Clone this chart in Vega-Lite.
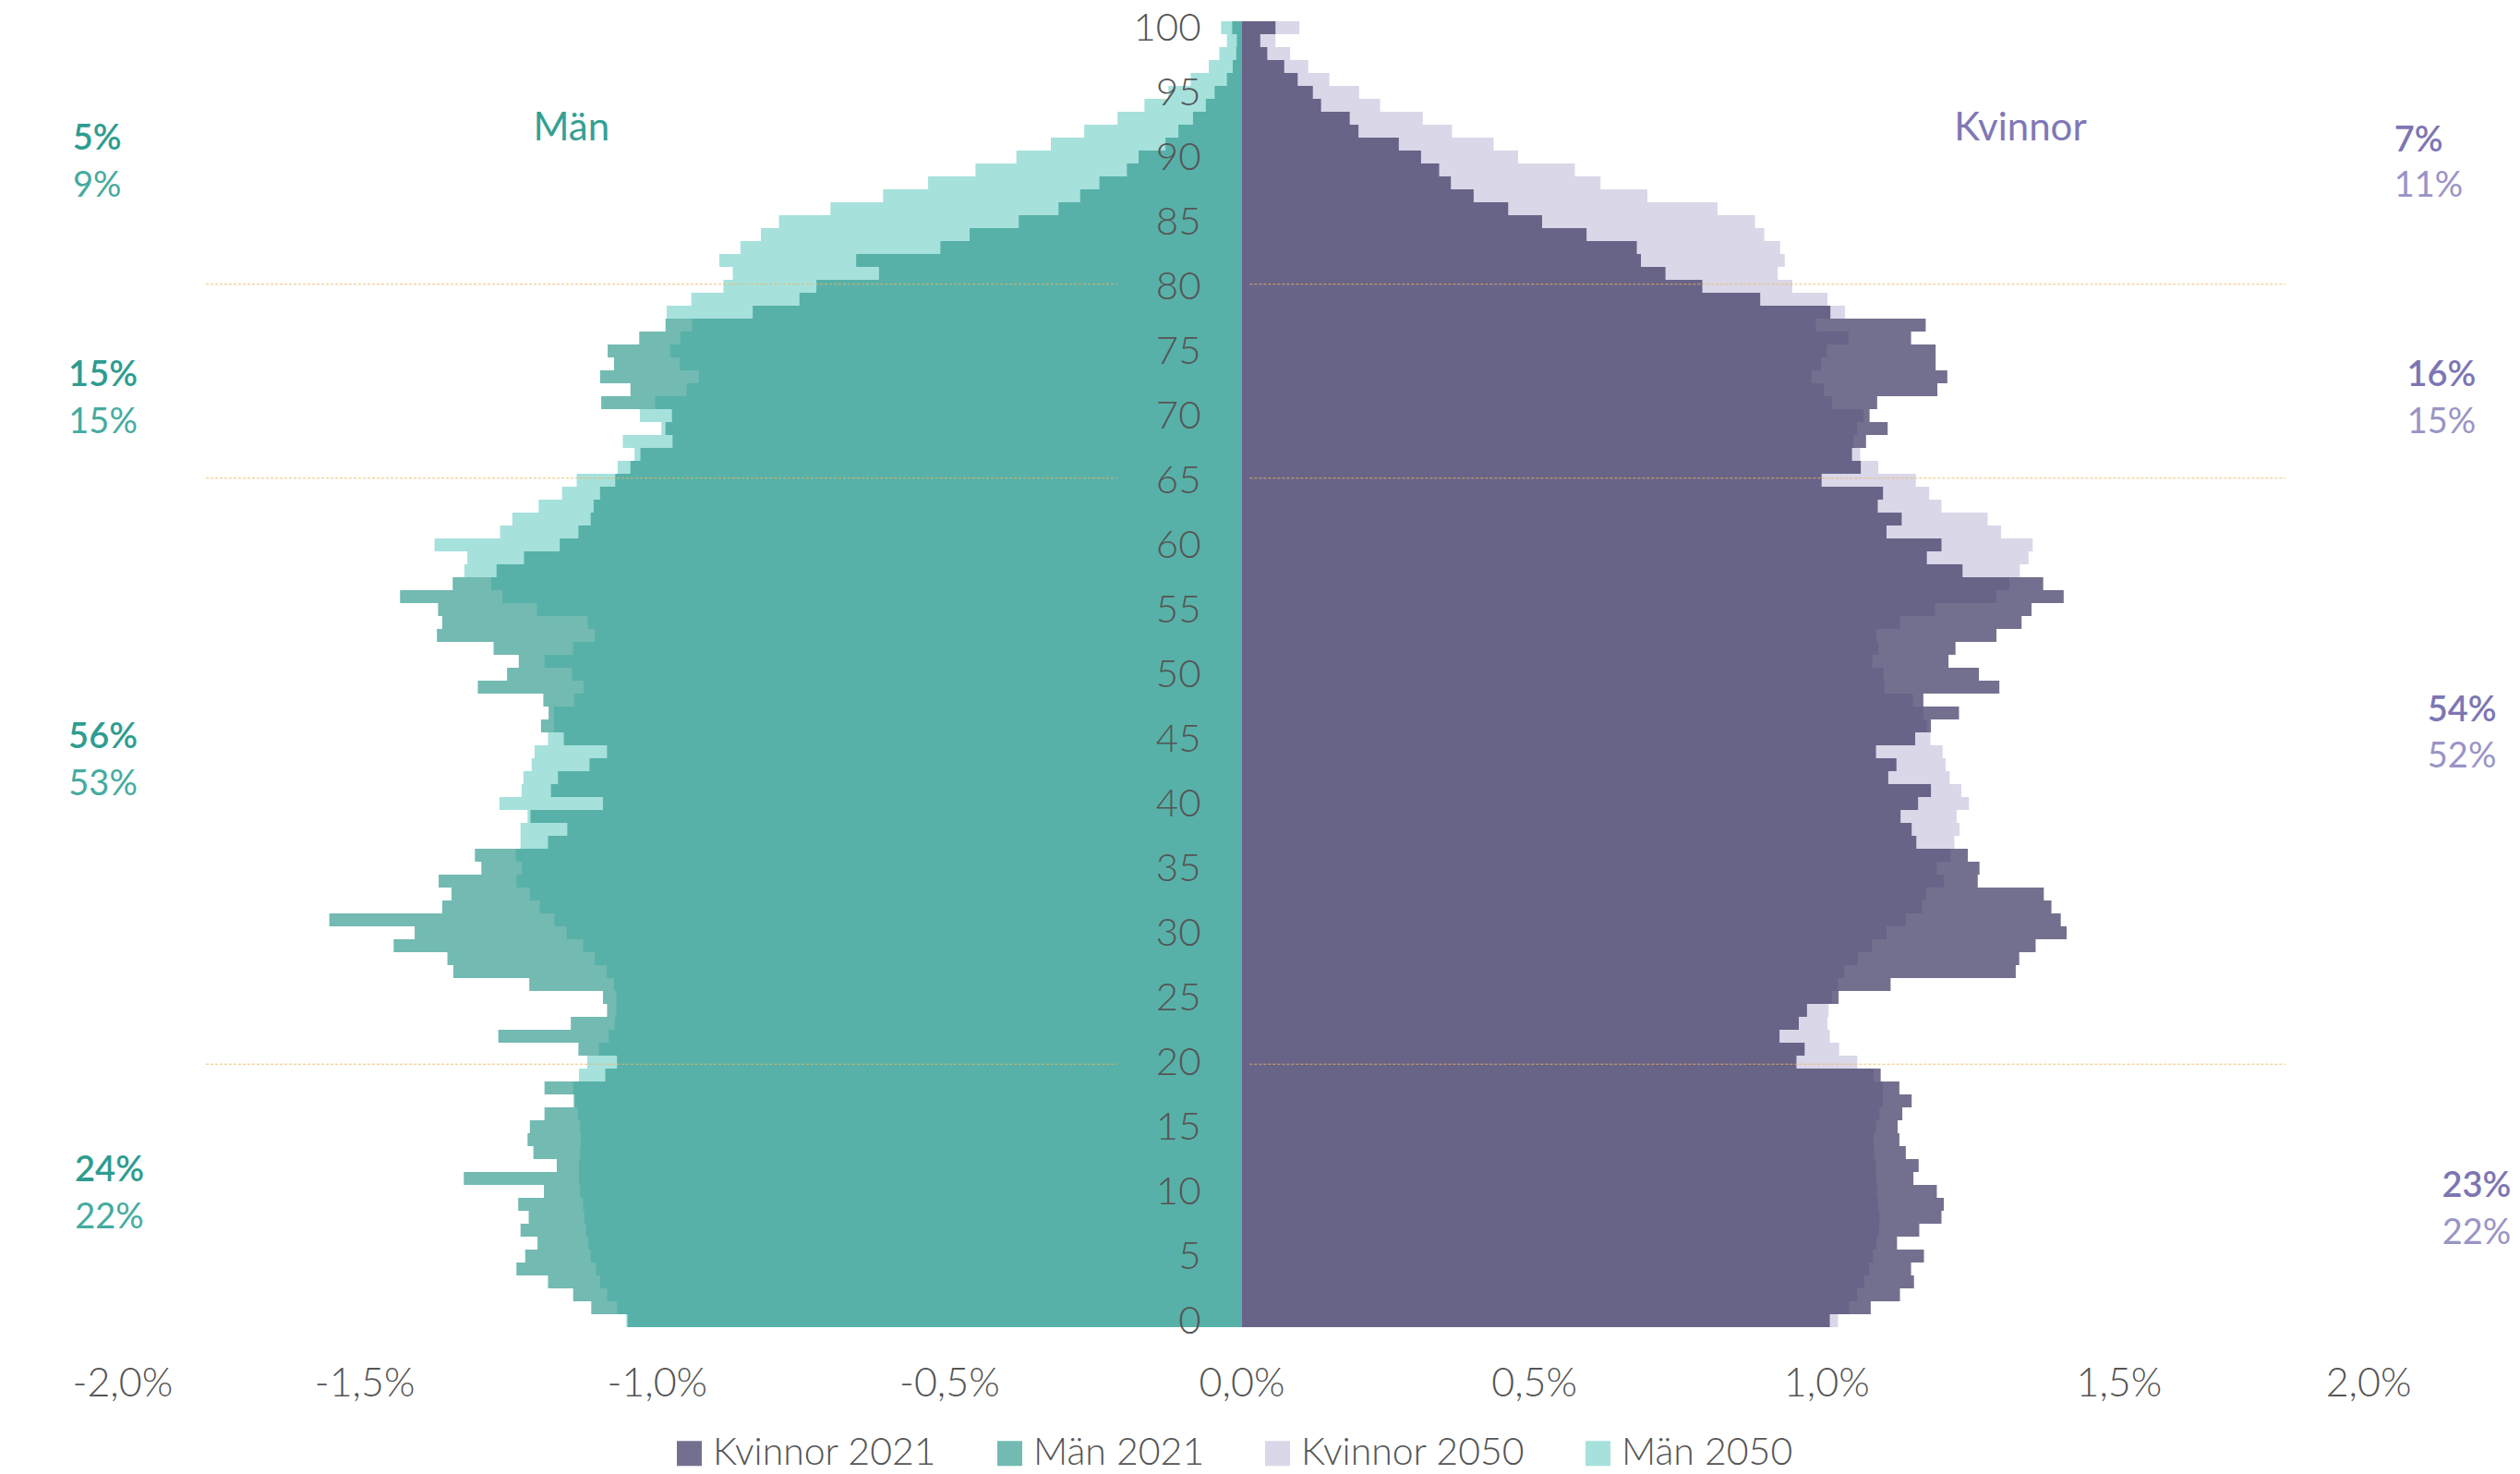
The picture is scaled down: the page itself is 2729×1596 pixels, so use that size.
{
  "$schema": "https://vega.github.io/schema/vega-lite/v6.json",
  "autosize": {"type": "none"},
  "padding": {"left": 78, "top": 23, "right": 118, "bottom": 159},
  "width": 2533,
  "height": 1414,
  "background": "white",
  "config": {"view": {"stroke": null}, "font": "Lato"},
  "datasets": {
    "pop": [
      {"age":100,"Kvinnor 2021":0.058,"Män 2021":-0.016,"Kvinnor 2050":0.099,"Män 2050":-0.035},
      {"age":99,"Kvinnor 2021":0.032,"Män 2021":-0.008,"Kvinnor 2050":0.058,"Män 2050":-0.025},
      {"age":98,"Kvinnor 2021":0.044,"Män 2021":-0.009,"Kvinnor 2050":0.083,"Män 2050":-0.038},
      {"age":97,"Kvinnor 2021":0.073,"Män 2021":-0.015,"Kvinnor 2050":0.114,"Män 2050":-0.056},
      {"age":96,"Kvinnor 2021":0.096,"Män 2021":-0.025,"Kvinnor 2050":0.150,"Män 2050":-0.087},
      {"age":95,"Kvinnor 2021":0.122,"Män 2021":-0.046,"Kvinnor 2050":0.201,"Män 2050":-0.125},
      {"age":94,"Kvinnor 2021":0.136,"Män 2021":-0.061,"Kvinnor 2050":0.237,"Män 2050":-0.166},
      {"age":93,"Kvinnor 2021":0.185,"Män 2021":-0.083,"Kvinnor 2050":0.310,"Män 2050":-0.212},
      {"age":92,"Kvinnor 2021":0.200,"Män 2021":-0.108,"Kvinnor 2050":0.360,"Män 2050":-0.269},
      {"age":91,"Kvinnor 2021":0.269,"Män 2021":-0.130,"Kvinnor 2050":0.431,"Män 2050":-0.326},
      {"age":90,"Kvinnor 2021":0.307,"Män 2021":-0.176,"Kvinnor 2050":0.473,"Män 2050":-0.385},
      {"age":89,"Kvinnor 2021":0.338,"Män 2021":-0.196,"Kvinnor 2050":0.570,"Män 2050":-0.455},
      {"age":88,"Kvinnor 2021":0.358,"Män 2021":-0.243,"Kvinnor 2050":0.614,"Män 2050":-0.536},
      {"age":87,"Kvinnor 2021":0.397,"Män 2021":-0.276,"Kvinnor 2050":0.694,"Män 2050":-0.613},
      {"age":86,"Kvinnor 2021":0.456,"Män 2021":-0.313,"Kvinnor 2050":0.814,"Män 2050":-0.703},
      {"age":85,"Kvinnor 2021":0.514,"Män 2021":-0.381,"Kvinnor 2050":0.878,"Män 2050":-0.791},
      {"age":84,"Kvinnor 2021":0.590,"Män 2021":-0.465,"Kvinnor 2050":0.894,"Män 2050":-0.822},
      {"age":83,"Kvinnor 2021":0.676,"Män 2021":-0.515,"Kvinnor 2050":0.921,"Män 2050":-0.857},
      {"age":82,"Kvinnor 2021":0.683,"Män 2021":-0.659,"Kvinnor 2050":0.929,"Män 2050":-0.893},
      {"age":81,"Kvinnor 2021":0.725,"Män 2021":-0.620,"Kvinnor 2050":0.917,"Män 2050":-0.870},
      {"age":80,"Kvinnor 2021":0.788,"Män 2021":-0.727,"Kvinnor 2050":0.942,"Män 2050":-0.886},
      {"age":79,"Kvinnor 2021":0.887,"Män 2021":-0.756,"Kvinnor 2050":1.002,"Män 2050":-0.941},
      {"age":78,"Kvinnor 2021":1.007,"Män 2021":-0.836,"Kvinnor 2050":1.032,"Män 2050":-0.983},
      {"age":77,"Kvinnor 2021":1.170,"Män 2021":-0.985,"Kvinnor 2050":0.982,"Män 2050":-0.940},
      {"age":76,"Kvinnor 2021":1.145,"Män 2021":-1.030,"Kvinnor 2050":1.038,"Män 2050":-0.960},
      {"age":75,"Kvinnor 2021":1.187,"Män 2021":-1.084,"Kvinnor 2050":1.001,"Män 2050":-0.977},
      {"age":74,"Kvinnor 2021":1.187,"Män 2021":-1.073,"Kvinnor 2050":0.991,"Män 2050":-0.961},
      {"age":73,"Kvinnor 2021":1.207,"Män 2021":-1.097,"Kvinnor 2050":0.975,"Män 2050":-0.928},
      {"age":72,"Kvinnor 2021":1.190,"Män 2021":-1.045,"Kvinnor 2050":0.996,"Män 2050":-0.949},
      {"age":71,"Kvinnor 2021":1.087,"Män 2021":-1.095,"Kvinnor 2050":1.010,"Män 2050":-1.003},
      {"age":70,"Kvinnor 2021":1.074,"Män 2021":-0.974,"Kvinnor 2050":1.064,"Män 2050":-1.029},
      {"age":69,"Kvinnor 2021":1.105,"Män 2021":-0.985,"Kvinnor 2050":1.053,"Män 2050":-0.992},
      {"age":68,"Kvinnor 2021":1.068,"Män 2021":-0.973,"Kvinnor 2050":1.047,"Män 2050":-1.058},
      {"age":67,"Kvinnor 2021":1.044,"Män 2021":-1.028,"Kvinnor 2050":1.058,"Män 2050":-1.038},
      {"age":66,"Kvinnor 2021":1.059,"Män 2021":-1.045,"Kvinnor 2050":1.089,"Män 2050":-1.067},
      {"age":65,"Kvinnor 2021":0.992,"Män 2021":-1.071,"Kvinnor 2050":1.153,"Män 2050":-1.137},
      {"age":64,"Kvinnor 2021":1.097,"Män 2021":-1.097,"Kvinnor 2050":1.176,"Män 2050":-1.162},
      {"age":63,"Kvinnor 2021":1.088,"Män 2021":-1.108,"Kvinnor 2050":1.197,"Män 2050":-1.202},
      {"age":62,"Kvinnor 2021":1.129,"Män 2021":-1.113,"Kvinnor 2050":1.276,"Män 2050":-1.247},
      {"age":61,"Kvinnor 2021":1.103,"Män 2021":-1.134,"Kvinnor 2050":1.299,"Män 2050":-1.268},
      {"age":60,"Kvinnor 2021":1.197,"Män 2021":-1.166,"Kvinnor 2050":1.353,"Män 2050":-1.380},
      {"age":59,"Kvinnor 2021":1.172,"Män 2021":-1.227,"Kvinnor 2050":1.346,"Män 2050":-1.324},
      {"age":58,"Kvinnor 2021":1.233,"Män 2021":-1.274,"Kvinnor 2050":1.331,"Män 2050":-1.329},
      {"age":57,"Kvinnor 2021":1.371,"Män 2021":-1.349,"Kvinnor 2050":1.313,"Män 2050":-1.283},
      {"age":56,"Kvinnor 2021":1.406,"Män 2021":-1.439,"Kvinnor 2050":1.291,"Män 2050":-1.264},
      {"age":55,"Kvinnor 2021":1.351,"Män 2021":-1.374,"Kvinnor 2050":1.186,"Män 2050":-1.205},
      {"age":54,"Kvinnor 2021":1.334,"Män 2021":-1.367,"Kvinnor 2050":1.126,"Män 2050":-1.118},
      {"age":53,"Kvinnor 2021":1.291,"Män 2021":-1.376,"Kvinnor 2050":1.086,"Män 2050":-1.106},
      {"age":52,"Kvinnor 2021":1.221,"Män 2021":-1.279,"Kvinnor 2050":1.089,"Män 2050":-1.143},
      {"age":51,"Kvinnor 2021":1.209,"Män 2021":-1.236,"Kvinnor 2050":1.079,"Män 2050":-1.192},
      {"age":50,"Kvinnor 2021":1.261,"Män 2021":-1.256,"Kvinnor 2050":1.098,"Män 2050":-1.145},
      {"age":49,"Kvinnor 2021":1.296,"Män 2021":-1.306,"Kvinnor 2050":1.100,"Män 2050":-1.125},
      {"age":48,"Kvinnor 2021":1.166,"Män 2021":-1.194,"Kvinnor 2050":1.148,"Män 2050":-1.141},
      {"age":47,"Kvinnor 2021":1.227,"Män 2021":-1.185,"Kvinnor 2050":1.166,"Män 2050":-1.176},
      {"age":46,"Kvinnor 2021":1.179,"Män 2021":-1.198,"Kvinnor 2050":1.172,"Män 2050":-1.176},
      {"age":45,"Kvinnor 2021":1.152,"Män 2021":-1.159,"Kvinnor 2050":1.178,"Män 2050":-1.186},
      {"age":44,"Kvinnor 2021":1.085,"Män 2021":-1.085,"Kvinnor 2050":1.199,"Män 2050":-1.209},
      {"age":43,"Kvinnor 2021":1.120,"Män 2021":-1.115,"Kvinnor 2050":1.204,"Män 2050":-1.214},
      {"age":42,"Kvinnor 2021":1.106,"Män 2021":-1.169,"Kvinnor 2050":1.211,"Män 2050":-1.228},
      {"age":41,"Kvinnor 2021":1.179,"Män 2021":-1.181,"Kvinnor 2050":1.231,"Män 2050":-1.231},
      {"age":40,"Kvinnor 2021":1.157,"Män 2021":-1.092,"Kvinnor 2050":1.244,"Män 2050":-1.269},
      {"age":39,"Kvinnor 2021":1.127,"Män 2021":-1.216,"Kvinnor 2050":1.223,"Män 2050":-1.221},
      {"age":38,"Kvinnor 2021":1.146,"Män 2021":-1.153,"Kvinnor 2050":1.228,"Män 2050":-1.233},
      {"age":37,"Kvinnor 2021":1.154,"Män 2021":-1.186,"Kvinnor 2050":1.219,"Män 2050":-1.233},
      {"age":36,"Kvinnor 2021":1.242,"Män 2021":-1.311,"Kvinnor 2050":1.213,"Män 2050":-1.241},
      {"age":35,"Kvinnor 2021":1.262,"Män 2021":-1.300,"Kvinnor 2050":1.189,"Män 2050":-1.231},
      {"age":34,"Kvinnor 2021":1.259,"Män 2021":-1.373,"Kvinnor 2050":1.201,"Män 2050":-1.240},
      {"age":33,"Kvinnor 2021":1.372,"Män 2021":-1.351,"Kvinnor 2050":1.171,"Män 2050":-1.217},
      {"age":32,"Kvinnor 2021":1.385,"Män 2021":-1.367,"Kvinnor 2050":1.164,"Män 2050":-1.200},
      {"age":31,"Kvinnor 2021":1.401,"Män 2021":-1.560,"Kvinnor 2050":1.136,"Män 2050":-1.175},
      {"age":30,"Kvinnor 2021":1.411,"Män 2021":-1.414,"Kvinnor 2050":1.103,"Män 2050":-1.154},
      {"age":29,"Kvinnor 2021":1.358,"Män 2021":-1.450,"Kvinnor 2050":1.078,"Män 2050":-1.126},
      {"age":28,"Kvinnor 2021":1.330,"Män 2021":-1.358,"Kvinnor 2050":1.054,"Män 2050":-1.106},
      {"age":27,"Kvinnor 2021":1.324,"Män 2021":-1.348,"Kvinnor 2050":1.031,"Män 2050":-1.086},
      {"age":26,"Kvinnor 2021":1.110,"Män 2021":-1.218,"Kvinnor 2050":1.020,"Män 2050":-1.073},
      {"age":25,"Kvinnor 2021":1.021,"Män 2021":-1.092,"Kvinnor 2050":1.010,"Män 2050":-1.069},
      {"age":24,"Kvinnor 2021":0.967,"Män 2021":-1.085,"Kvinnor 2050":1.004,"Män 2050":-1.069},
      {"age":23,"Kvinnor 2021":0.953,"Män 2021":-1.147,"Kvinnor 2050":1.002,"Män 2050":-1.072},
      {"age":22,"Kvinnor 2021":0.920,"Män 2021":-1.271,"Kvinnor 2050":1.006,"Män 2050":-1.082},
      {"age":21,"Kvinnor 2021":0.963,"Män 2021":-1.134,"Kvinnor 2050":1.022,"Män 2050":-1.099},
      {"age":20,"Kvinnor 2021":0.949,"Män 2021":-1.068,"Kvinnor 2050":1.053,"Män 2050":-1.119},
      {"age":19,"Kvinnor 2021":1.093,"Män 2021":-1.088,"Kvinnor 2050":1.081,"Män 2050":-1.133},
      {"age":18,"Kvinnor 2021":1.125,"Män 2021":-1.192,"Kvinnor 2050":1.097,"Män 2050":-1.143},
      {"age":17,"Kvinnor 2021":1.146,"Män 2021":-1.142,"Kvinnor 2050":1.097,"Män 2050":-1.140},
      {"age":16,"Kvinnor 2021":1.130,"Män 2021":-1.192,"Kvinnor 2050":1.091,"Män 2050":-1.135},
      {"age":15,"Kvinnor 2021":1.122,"Män 2021":-1.217,"Kvinnor 2050":1.085,"Män 2050":-1.131},
      {"age":14,"Kvinnor 2021":1.125,"Män 2021":-1.221,"Kvinnor 2050":1.081,"Män 2050":-1.130},
      {"age":13,"Kvinnor 2021":1.136,"Män 2021":-1.211,"Kvinnor 2050":1.082,"Män 2050":-1.131},
      {"age":12,"Kvinnor 2021":1.158,"Män 2021":-1.171,"Kvinnor 2050":1.085,"Män 2050":-1.133},
      {"age":11,"Kvinnor 2021":1.149,"Män 2021":-1.330,"Kvinnor 2050":1.086,"Män 2050":-1.133},
      {"age":10,"Kvinnor 2021":1.189,"Män 2021":-1.193,"Kvinnor 2050":1.087,"Män 2050":-1.131},
      {"age":9,"Kvinnor 2021":1.201,"Män 2021":-1.237,"Kvinnor 2050":1.089,"Män 2050":-1.126},
      {"age":8,"Kvinnor 2021":1.197,"Män 2021":-1.219,"Kvinnor 2050":1.091,"Män 2050":-1.124},
      {"age":7,"Kvinnor 2021":1.159,"Män 2021":-1.233,"Kvinnor 2050":1.090,"Män 2050":-1.121},
      {"age":6,"Kvinnor 2021":1.121,"Män 2021":-1.204,"Kvinnor 2050":1.086,"Män 2050":-1.117},
      {"age":5,"Kvinnor 2021":1.167,"Män 2021":-1.225,"Kvinnor 2050":1.080,"Män 2050":-1.113},
      {"age":4,"Kvinnor 2021":1.145,"Män 2021":-1.240,"Kvinnor 2050":1.073,"Män 2050":-1.104},
      {"age":3,"Kvinnor 2021":1.150,"Män 2021":-1.186,"Kvinnor 2050":1.065,"Män 2050":-1.097},
      {"age":2,"Kvinnor 2021":1.126,"Män 2021":-1.143,"Kvinnor 2050":1.053,"Män 2050":-1.085},
      {"age":1,"Kvinnor 2021":1.076,"Män 2021":-1.112,"Kvinnor 2050":1.039,"Män 2050":-1.068},
      {"age":0,"Kvinnor 2021":1.006,"Män 2021":-1.050,"Kvinnor 2050":1.020,"Män 2050":-1.052}
    ],
    "guides": [
      {"age": 80.16, "from": -1.771, "to": -0.213},
      {"age": 80.16, "from": 0.014, "to": 1.785},
      {"age": 65.16, "from": -1.771, "to": -0.213},
      {"age": 65.16, "from": 0.014, "to": 1.785},
      {"age": 19.84, "from": -1.771, "to": -0.213},
      {"age": 19.84, "from": 0.014, "to": 1.785}
    ],
    "notes": [
      {"side": "Män", "year": 2021, "label": "5%", "x": -1.957, "age": 91.35},
      {"side": "Män", "year": 2050, "label": "9%", "x": -1.957, "age": 87.75},
      {"side": "Män", "year": 2021, "label": "15%", "x": -1.947, "age": 73.05},
      {"side": "Män", "year": 2050, "label": "15%", "x": -1.947, "age": 69.45},
      {"side": "Män", "year": 2021, "label": "56%", "x": -1.947, "age": 45.05},
      {"side": "Män", "year": 2050, "label": "53%", "x": -1.947, "age": 41.45},
      {"side": "Män", "year": 2021, "label": "24%", "x": -1.936, "age": 11.55},
      {"side": "Män", "year": 2050, "label": "22%", "x": -1.936, "age": 7.95},
      {"side": "Kvinnor", "year": 2021, "label": "7%", "x": 2.013, "age": 91.25},
      {"side": "Kvinnor", "year": 2050, "label": "11%", "x": 2.030, "age": 87.75},
      {"side": "Kvinnor", "year": 2021, "label": "16%", "x": 2.052, "age": 73.05},
      {"side": "Kvinnor", "year": 2050, "label": "15%", "x": 2.052, "age": 69.45},
      {"side": "Kvinnor", "year": 2021, "label": "54%", "x": 2.087, "age": 47.15},
      {"side": "Kvinnor", "year": 2050, "label": "52%", "x": 2.087, "age": 43.55},
      {"side": "Kvinnor", "year": 2021, "label": "23%", "x": 2.112, "age": 10.35},
      {"side": "Kvinnor", "year": 2050, "label": "22%", "x": 2.112, "age": 6.75}
    ],
    "headers": [
      {"side": "Män", "label": "Män", "x": -1.146, "age": 92.25},
      {"side": "Kvinnor", "label": "Kvinnor", "x": 1.332, "age": 92.25}
    ]
  },
  "layer": [
    {
      "data": {"name": "pop"},
      "transform": [
        {"fold": ["Kvinnor 2021", "Män 2021", "Kvinnor 2050", "Män 2050"], "as": ["series", "value"]},
        {"filter": "indexof(['Kvinnor 2050','Män 2050'], datum.series) >= 0"}
      ],
      "mark": {"type": "bar", "orient": "horizontal", "height": 14},
      "encoding": {
        "x": {"field": "value", "type": "quantitative",
              "scale": {"domain": [-2, 2], "nice": false, "zero": false, "padding": 0},
              "axis": {"values": [-2, -1.5, -1, -0.5, 0, 0.5, 1, 1.5, 2],
                       "labelExpr": "(datum.value < 0 ? '-' : '') + replace(format(abs(datum.value), '.1f'), '.', ',') + '%'",
                       "title": null, "grid": false, "ticks": false, "domain": false,
                       "labelFont": "Lato", "labelFontSize": 43, "labelFontWeight": 300, "labelColor": "#555555", "labelPadding": 40}},
        "y": {"field": "age", "type": "quantitative",
              "scale": {"domain": [-0.5, 100.5], "nice": false, "zero": false, "padding": 0},
              "axis": {"values": [0,5,10,15,20,25,30,35,40,45,50,55,60,65,70,75,80,85,90,95,100],
                       "title": null, "grid": false, "ticks": false, "domain": false, "offset": -1222,
                       "labelPadding": 0, "labelFont": "Lato", "labelFontSize": 42, "labelFontWeight": 300, "labelColor": "#555555",
                       "labelBaseline": "middle", "zindex": 1}},
        "color": {"field": "series", "type": "nominal",
                  "scale": {"domain": ["Kvinnor 2021", "Män 2021", "Kvinnor 2050", "Män 2050"],
                            "range": ["rgba(55,51,95,0.7)", "rgba(54,156,145,0.7)", "#d9d7e8", "#a6e1dc"]},
                  "legend": {"title": null, "orient": "none", "legendX": 648, "legendY": 1530, "direction": "horizontal",
                             "symbolType": "square", "symbolSize": 730, "symbolStrokeWidth": 0,
                             "labelFont": "Lato", "labelFontSize": 41, "labelFontWeight": 300, "labelColor": "#555555",
                             "labelLimit": 1000, "labelOffset": 5, "columnPadding": 58}}
      }
    },
    {
      "data": {"name": "pop"},
      "transform": [
        {"fold": ["Kvinnor 2021", "Män 2021", "Kvinnor 2050", "Män 2050"], "as": ["series", "value"]},
        {"filter": "indexof(['Kvinnor 2021','Män 2021'], datum.series) >= 0"}
      ],
      "mark": {"type": "bar", "orient": "horizontal", "height": 14},
      "encoding": {
        "x": {"field": "value", "type": "quantitative"},
        "y": {"field": "age", "type": "quantitative"},
        "color": {"field": "series", "type": "nominal"}
      }
    },
    {
      "mark": {"type": "rule", "color": "#dddde6", "strokeWidth": 2},
      "encoding": {"x": {"datum": 0}}
    },
    {
      "data": {"name": "guides"},
      "mark": {"type": "rule", "color": "#efb55c", "strokeWidth": 1.2, "strokeDash": [3, 2], "opacity": 0.85},
      "encoding": {
        "x": {"field": "from", "type": "quantitative"},
        "x2": {"field": "to"},
        "y": {"field": "age", "type": "quantitative"}
      }
    },
    {
      "data": {"name": "notes"},
      "transform": [{"filter": "datum.side == 'Män' && datum.year == 2021"}],
      "mark": {"type": "text", "font": "Lato", "fontSize": 38, "fontWeight": 600, "color": "#2e9c90", "align": "center", "baseline": "middle"},
      "encoding": {"x": {"field": "x", "type": "quantitative"}, "y": {"field": "age", "type": "quantitative"}, "text": {"field": "label"}}
    },
    {
      "data": {"name": "notes"},
      "transform": [{"filter": "datum.side == 'Män' && datum.year == 2050"}],
      "mark": {"type": "text", "font": "Lato", "fontSize": 38, "fontWeight": 400, "color": "#45ab9f", "align": "center", "baseline": "middle"},
      "encoding": {"x": {"field": "x", "type": "quantitative"}, "y": {"field": "age", "type": "quantitative"}, "text": {"field": "label"}}
    },
    {
      "data": {"name": "notes"},
      "transform": [{"filter": "datum.side == 'Kvinnor' && datum.year == 2021"}],
      "mark": {"type": "text", "font": "Lato", "fontSize": 38, "fontWeight": 600, "color": "#7d76b3", "align": "center", "baseline": "middle"},
      "encoding": {"x": {"field": "x", "type": "quantitative"}, "y": {"field": "age", "type": "quantitative"}, "text": {"field": "label"}}
    },
    {
      "data": {"name": "notes"},
      "transform": [{"filter": "datum.side == 'Kvinnor' && datum.year == 2050"}],
      "mark": {"type": "text", "font": "Lato", "fontSize": 38, "fontWeight": 400, "color": "#9a94c6", "align": "center", "baseline": "middle"},
      "encoding": {"x": {"field": "x", "type": "quantitative"}, "y": {"field": "age", "type": "quantitative"}, "text": {"field": "label"}}
    },
    {
      "data": {"name": "headers"},
      "transform": [{"filter": "datum.side == 'Män'"}],
      "mark": {"type": "text", "font": "Lato", "fontSize": 42, "color": "#35a093", "align": "center", "baseline": "middle"},
      "encoding": {"x": {"field": "x", "type": "quantitative"}, "y": {"field": "age", "type": "quantitative"}, "text": {"field": "label"}}
    },
    {
      "data": {"name": "headers"},
      "transform": [{"filter": "datum.side == 'Kvinnor'"}],
      "mark": {"type": "text", "font": "Lato", "fontSize": 42, "color": "#7f78b5", "align": "center", "baseline": "middle"},
      "encoding": {"x": {"field": "x", "type": "quantitative"}, "y": {"field": "age", "type": "quantitative"}, "text": {"field": "label"}}
    }
  ]
}
